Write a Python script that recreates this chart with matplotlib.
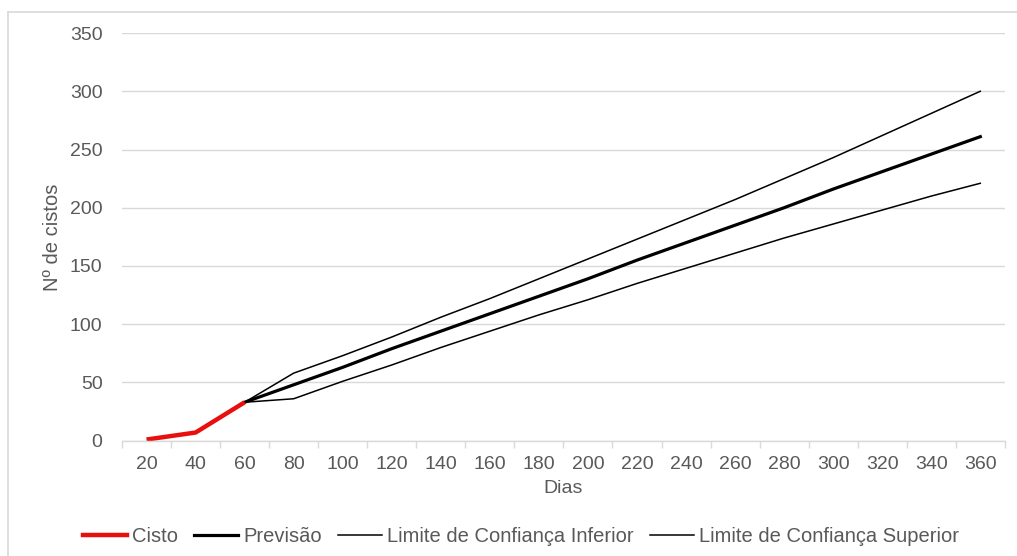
import numpy as np
import matplotlib
matplotlib.use("Agg")
import matplotlib.pyplot as plt
from matplotlib.lines import Line2D

plt.rcParams['font.family'] = ['Liberation Sans', 'DejaVu Sans']

# dados
dias = [20, 40, 60, 80, 100, 120, 140, 160, 180, 200, 220, 240, 260, 280, 300, 320, 340, 360]
cisto = [1, 7, 33] + [np.nan] * 15
previsao = [np.nan, np.nan, 33, 48, 63, 79, 94, 109, 124, 139, 155, 170, 185, 200, 216, 231, 246, 261]
lim_inf = [np.nan, np.nan, 33, 36, 51, 65, 80, 94, 108, 121, 135, 148, 161, 174, 186, 198, 210, 221]
lim_sup = [np.nan, np.nan, 33, 58, 73, 89, 106, 122, 139, 156, 173, 190, 207, 225, 243, 262, 281, 300]

cinza = '#595959'
grade = '#d9d9d9'

fig = plt.figure(figsize=(10.17, 5.56), dpi=100)
ax = fig.add_axes([0.12, 0.2074, 0.868, 0.7332])

x = np.arange(len(dias))
ax.plot(x, lim_sup, color='black', lw=1.1, label='Limite de Confiança Superior')
ax.plot(x, lim_inf, color='black', lw=1.1, label='Limite de Confiança Inferior')
ax.plot(x, previsao, color='black', lw=2.3, label='Previsão')
ax.plot(x, cisto, color='#e8100f', lw=3.2, solid_capstyle='butt', label='Cisto')

ax.set_xlim(-0.5, len(dias) - 0.5)
ax.set_ylim(0, 350)
ax.set_yticks(np.arange(0, 351, 50))
ax.set_xticks(x)
ax.set_xticklabels([str(d) for d in dias])
ax.set_xticks(np.arange(-0.5, len(dias), 1), minor=True)

ax.grid(axis='y', color=grade, lw=1)
ax.set_axisbelow(True)
for s in ['top', 'right', 'left']:
    ax.spines[s].set_visible(False)
ax.spines['bottom'].set_color(grade)
ax.spines['bottom'].set_linewidth(1)

ax.tick_params(axis='x', which='major', length=0, pad=11, labelsize=14, labelcolor=cinza)
ax.tick_params(axis='x', which='minor', length=5, color=grade, width=1)
ax.tick_params(axis='y', length=0, pad=14, labelsize=14, labelcolor=cinza)

ax.set_xlabel('Dias', fontsize=14, color=cinza, labelpad=5)
ax.set_ylabel('Nº de cistos', fontsize=14.5, color=cinza, labelpad=6)

# legenda
handles = [
    Line2D([], [], color='#e8100f', lw=3.2),
    Line2D([], [], color='black', lw=2.3),
    Line2D([], [], color='black', lw=1.1),
    Line2D([], [], color='black', lw=1.1),
]
labels = ['Cisto', 'Previsão', 'Limite de Confiança Inferior', 'Limite de Confiança Superior']
leg = fig.legend(handles, labels, loc='center', bbox_to_anchor=(521 / 1017, 1 - 537 / 556),
                 ncol=4, frameon=False, fontsize=14.5, handlelength=2.2, handletextpad=0.25,
                 columnspacing=0.8)
for t in leg.get_texts():
    t.set_color(cinza)

# moldura externa
fig.add_artist(Line2D([8 / 1017, 8 / 1017], [0, 1 - 12 / 556], color=grade, lw=1.2,
                      transform=fig.transFigure))
fig.add_artist(Line2D([8 / 1017, 1], [1 - 12 / 556, 1 - 12 / 556], color=grade, lw=1.2,
                      transform=fig.transFigure))

fig.savefig('out.png', dpi=100)
